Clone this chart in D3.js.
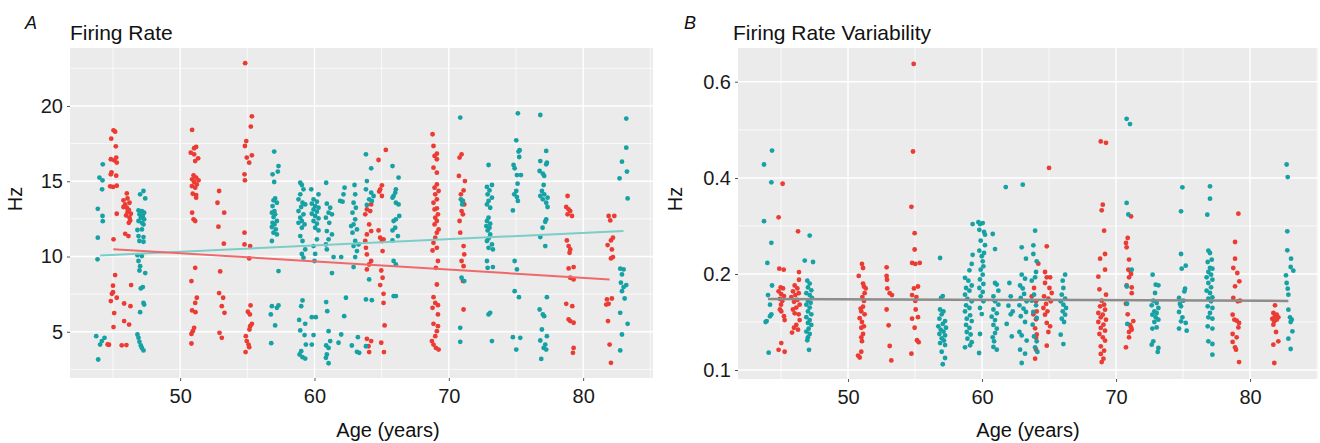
<!DOCTYPE html>
<html><head><meta charset="utf-8">
<script src="https://cdn.jsdelivr.net/npm/d3@7"></script>
<style>body{margin:0;background:#fff}svg{display:block}text{font-family:"Liberation Sans",Arial,Helvetica,sans-serif}</style>
</head><body><svg id="c" width="1320" height="443"></svg>
<script>
// ---------- DATA ----------
const xTicks = [50, 60, 70, 80];
const xMinor = [45, 55, 65, 75, 85];
const frTicks = [5, 10, 15, 20];
const frMinor = [2.5, 7.5, 12.5, 17.5, 22.5];
const frvTicks = [0.1, 0.2, 0.4, 0.6];
const frvMinor = [0.15, 0.3, 0.5];

// Panel A: firing rate (Hz) vs age, red group
const frRed = [
[45.04,18.38],[45.16,18.29],[44.87,17.83],[45.21,17.32],[45.24,16.57],[44.84,16.46],[45.09,16.39],[45.28,16.24],[44.89,15.59],[44.84,15.46],[45.24,15.37],[45.28,14.7],[44.79,14.66],[45.0,14.62],[45.28,12.84],[45.04,11.14],[45.16,8.77],[45.0,8.06],[45.0,7.63],[44.92,7.52],[45.28,7.26],[44.84,7.04],[45.09,6.24],[45.04,5.31],[44.7,4.14],[44.6,4.16],
[46.03,14.19],[46.08,13.86],[45.78,13.73],[46.23,13.57],[45.91,13.46],[45.78,13.29],[46.03,13.24],[46.18,13.09],[46.08,12.95],[46.33,12.84],[45.98,12.73],[46.23,12.58],[46.28,12.4],[46.18,12.24],[45.91,11.51],[46.15,11.36],[46.35,8.1],[45.83,6.88],[46.3,6.7],[45.83,5.71],[46.2,5.48],[45.65,4.1],[46.0,4.12],
[50.89,18.41],[51.19,17.28],[51.04,17.19],[50.79,16.9],[51.04,16.79],[51.34,16.52],[51.12,16.34],[51.0,15.39],[51.19,15.24],[50.89,15.13],[51.37,15.06],[51.04,14.95],[51.24,14.79],[50.87,14.68],[51.12,14.57],[50.94,14.17],[51.19,14.08],[51.19,13.91],[50.89,12.91],[51.0,12.47],[51.12,12.36],[51.12,9.25],[50.84,8.37],[51.24,7.26],[51.12,6.92],[50.89,6.42],[51.14,6.3],[51.04,5.26],[50.94,5.04],[50.84,4.86],[50.84,4.22],
[52.9,14.35],[52.78,13.57],[53.28,12.91],[52.85,11.98],[53.25,10.85],[52.98,9.01],[52.9,7.57],[53.2,7.26],[53.1,6.7],[53.3,6.26],[52.93,4.93],[53.1,4.6],
[54.84,22.84],[55.34,19.31],[55.26,18.63],[54.92,17.67],[54.82,17.34],[55.34,16.72],[54.96,16.57],[55.14,16.23],[54.79,15.46],[54.82,15.06],[54.79,11.58],[54.79,10.8],[55.21,10.69],[55.14,9.87],[55.24,6.75],[55.04,6.33],[55.19,6.15],[55.34,5.53],[55.21,5.37],[55.16,5.15],[54.89,4.71],[54.96,4.38],[55.09,4.15],[55.14,3.98],[54.87,3.65],
[64.22,13.46],[63.9,13.13],[64.15,13.02],[63.78,12.8],[64.07,12.13],[64.22,11.69],[63.9,11.47],[63.78,11.03],[63.83,10.58],[63.9,10.14],[64.22,9.7],[64.07,9.47],[63.9,9.14],[63.9,4.53],[64.22,4.38],[64.02,4.04],[64.07,3.65],
[65.31,17.08],[64.77,16.41],[65.02,14.73],[64.89,14.46],[64.82,14.31],[65.02,14.02],[64.77,11.73],[64.89,11.25],[65.14,11.14],[65.02,11.03],[65.07,10.36],[64.97,9.07],[65.07,8.59],[64.89,8.1],[65.14,7.52],[65.14,6.92],[65.22,5.42],[64.97,4.27],[65.17,3.65],
[68.79,18.12],[68.86,17.34],[69.11,16.83],[68.94,16.68],[69.11,16.46],[68.86,15.9],[69.11,15.57],[69.11,14.79],[68.94,14.57],[69.24,14.35],[68.99,14.13],[69.11,13.8],[68.86,13.57],[69.11,13.2],[68.94,13.13],[69.19,12.8],[68.99,12.58],[69.11,12.36],[68.94,12.13],[69.24,11.8],[69.11,11.58],[68.99,11.25],[68.86,10.91],[69.11,10.58],[68.79,10.4],[69.19,9.7],[69.04,9.25],[69.11,8.14],[68.86,7.3],[68.99,6.92],[69.19,6.77],[68.79,6.59],[69.19,6.15],[68.86,5.53],[69.19,5.37],[69.11,5.04],[68.99,4.71],[68.74,4.38],[68.86,4.15],[69.04,3.93],[69.24,3.82],
[70.95,16.79],[70.8,16.57],[70.75,15.35],[71.2,15.01],[71.1,14.39],[70.9,14.13],[71.0,13.69],[71.15,13.46],[70.95,13.02],[71.05,12.8],[70.8,12.36],[70.85,11.58],[71.1,10.69],[71.15,10.14],[70.95,9.7],[71.1,9.36],[71.05,8.37],[71.1,6.48],
[78.84,14.02],[78.74,13.29],[78.92,13.13],[79.04,13.02],[78.84,12.8],[79.17,12.69],[78.79,11.07],[78.92,10.69],[79.04,10.47],[78.99,10.25],[79.29,9.3],[78.92,9.21],[79.04,8.59],[79.29,8.48],[78.74,6.86],[79.19,6.7],[78.92,5.82],[79.04,5.71],[79.29,5.6],[79.29,3.93],[79.24,3.6],
[81.9,12.69],[82.02,12.4],[82.32,12.69],[82.22,11.25],[82.07,11.07],[81.82,10.76],[82.14,10.47],[82.22,9.96],[82.07,9.87],[82.14,7.21],[81.77,7.15],[81.9,6.86],[81.72,6.81],[81.85,5.71],[81.97,4.15],[82.07,2.94]
];

// Panel A: firing rate (Hz) vs age, teal group
const frTeal = [
[44.24,16.12],[43.99,15.24],[44.22,15.06],[44.19,14.46],[43.87,13.17],[44.22,12.69],[44.24,12.35],[43.87,11.25],[43.85,9.81],[43.75,4.71],[44.37,4.6],[44.17,4.38],[44.04,4.15],[43.9,3.16],
[47.27,14.35],[47.02,14.13],[47.4,13.86],[46.9,13.06],[47.15,13.02],[47.32,12.91],[46.97,12.8],[47.22,12.69],[47.07,12.58],[47.32,12.47],[46.9,12.36],[47.15,12.24],[47.27,12.13],[47.15,11.8],[46.82,11.76],[46.9,11.36],[47.27,11.29],[46.97,11.03],[47.27,10.98],[46.82,10.09],[47.15,10.03],[46.9,9.7],[47.02,9.36],[46.97,9.07],[47.4,8.9],[47.22,7.97],[47.07,7.88],[47.27,6.92],[47.32,6.81],[47.02,6.3],[46.82,4.82],[46.9,4.6],[46.97,4.33],[47.07,4.09],[47.15,3.93],[47.27,3.76],
[57.0,16.97],[57.32,16.01],[57.27,15.64],[56.88,15.46],[57.0,14.95],[57.07,13.86],[56.95,13.73],[57.2,13.57],[56.88,13.35],[57.02,13.02],[56.83,12.91],[57.07,12.8],[56.95,12.62],[57.2,12.36],[56.88,12.24],[57.02,12.13],[56.83,11.96],[57.12,11.8],[56.95,11.58],[57.2,11.47],[56.83,11.03],[57.32,9.03],[57.32,6.75],[56.83,6.7],[57.2,6.59],[56.75,6.15],[57.07,5.42],[56.78,4.24],
[58.94,14.9],[59.06,14.75],[59.18,14.46],[58.94,14.13],[58.81,13.8],[59.11,13.57],[59.31,13.46],[59.01,13.29],[58.81,13.02],[59.18,12.8],[58.94,12.58],[59.06,12.36],[58.81,12.24],[59.26,12.13],[59.06,11.91],[58.94,11.36],[59.11,11.03],[59.31,10.47],[59.06,10.18],[59.18,9.92],[59.11,7.08],[59.01,6.7],[58.86,5.79],[59.31,5.53],[58.94,5.09],[59.26,4.78],[59.36,4.15],[59.01,3.71],[58.89,3.49],[59.11,3.31],[59.31,3.22],
[59.76,14.46],[60.3,14.13],[59.93,13.8],[60.18,13.64],[59.8,13.51],[60.05,13.35],[60.3,13.24],[59.93,13.13],[60.18,12.98],[59.8,12.84],[60.05,12.69],[60.3,12.53],[59.93,12.36],[60.18,12.18],[60.05,11.91],[60.3,11.73],[60.18,11.14],[59.93,10.69],[60.05,10.18],[60.0,9.7],[59.8,5.97],[60.1,5.97],[59.93,4.78],[59.8,4.15],
[60.87,14.9],[60.92,13.51],[61.17,13.24],[61.05,12.91],[61.3,12.8],[60.85,12.58],[61.1,12.24],[60.92,11.69],[61.3,11.47],[61.05,11.14],[60.85,10.8],[60.92,10.47],[61.42,9.96],[61.3,8.9],[60.87,6.97],[60.95,6.37],[61.05,5.04],[61.17,4.38],[60.87,4.09],[61.05,3.93],[60.92,3.49],[60.85,3.27],[61.05,2.91],
[62.24,14.57],[62.16,14.13],[61.91,13.69],[62.09,13.64],[61.99,9.96],[62.34,7.26],[62.21,6.04],[61.99,4.82],[61.79,4.27],
[62.98,14.75],[63.03,14.13],[62.91,13.57],[63.08,13.24],[62.83,12.91],[63.03,12.47],[62.91,12.13],[62.73,12.02],[63.16,11.8],[62.83,11.58],[63.03,11.03],[63.28,10.8],[62.91,10.69],[63.16,10.36],[63.03,9.96],[62.91,9.3],[63.23,4.64],[62.78,4.09],[63.16,3.67],[63.33,3.6],
[63.83,16.79],[64.22,15.86],[63.9,15.01],[63.83,14.46],[64.22,14.24],[64.4,14.02],[64.07,13.8],[64.27,13.69],[63.9,13.42],[64.07,8.48],[63.83,7.15],[64.27,7.1],[63.83,4.04],
[65.81,16.01],[66.26,15.24],[66.06,14.46],[66.01,14.24],[65.89,14.02],[65.81,13.91],[66.06,13.57],[66.26,13.46],[66.31,12.69],[66.06,12.47],[65.89,12.36],[66.01,11.91],[65.81,11.73],[66.21,11.36],[65.81,11.07],[65.89,9.7],[66.06,9.47],[65.89,7.37],[66.06,7.37],
[70.85,19.23],[70.9,13.8],[71.05,13.69],[71.0,13.46],[70.95,8.59],[71.15,8.37],[70.85,5.26],[70.85,4.33],
[72.96,16.08],[73.21,14.75],[72.84,14.62],[73.03,14.39],[72.89,14.13],[73.21,13.91],[72.96,13.69],[72.84,13.46],[73.08,13.24],[72.96,12.58],[72.84,12.36],[73.08,12.18],[72.79,12.02],[73.03,11.91],[72.89,11.73],[73.08,11.47],[72.96,11.2],[72.84,11.03],[73.21,10.8],[72.96,10.58],[73.28,10.47],[72.84,9.7],[73.28,9.3],[72.89,9.25],[73.08,6.26],[72.96,6.15],[73.21,4.38],
[75.14,19.51],[75.02,17.72],[75.27,17.06],[75.19,16.97],[75.24,16.61],[74.82,16.08],[74.9,15.86],[75.07,15.41],[75.37,15.41],[75.12,14.84],[75.02,14.35],[74.87,14.13],[75.07,13.95],[75.14,13.69],[74.77,13.06],[74.9,9.7],[75.07,9.14],[74.9,7.7],[75.22,7.3],[74.77,4.64],[75.32,4.6],[75.02,3.82],
[76.81,19.4],[77.25,17.01],[76.81,16.34],[77.3,16.23],[77.25,16.12],[76.76,15.68],[77.0,15.5],[77.1,15.35],[77.06,14.75],[76.93,14.35],[77.1,14.13],[76.81,14.02],[77.35,13.91],[77.0,13.8],[77.25,13.57],[77.35,13.29],[77.25,12.47],[77.18,12.31],[76.98,11.91],[76.81,11.29],[77.18,10.69],[77.3,7.3],[76.76,6.48],[77.0,6.15],[77.1,6.04],[76.93,5.15],[77.3,4.71],[76.81,4.42],[77.18,4.15],[77.06,3.93],[77.25,3.82],[76.88,3.2],
[83.21,19.16],[83.21,17.23],[82.89,16.3],[83.26,15.64],[82.71,15.19],[83.31,13.86],[82.76,9.19],[83.01,9.14],[82.89,8.81],[82.81,8.26],[83.21,8.1],[83.01,7.97],[82.89,7.7],[83.09,7.21],[82.76,6.26],[83.31,5.53],[82.89,4.82],[82.76,3.76]
];

// Panel B: firing rate variability vs age, red group
const frvRed = [
[45.12,0.388],[44.82,0.318],[44.87,0.211],[45.2,0.209],[44.97,0.186],[45.15,0.185],[44.82,0.182],[45.02,0.179],[45.22,0.177],[44.92,0.174],[45.1,0.172],[45.0,0.168],[44.92,0.163],[45.02,0.161],[45.22,0.156],[45.27,0.152],[45.02,0.128],[44.82,0.121],[45.27,0.119],
[46.27,0.289],[46.34,0.204],[46.34,0.194],[46.02,0.188],[46.22,0.185],[45.89,0.182],[46.32,0.18],[46.07,0.178],[45.77,0.176],[46.22,0.173],[45.97,0.171],[46.39,0.168],[46.14,0.165],[45.89,0.163],[46.02,0.159],[46.32,0.158],[46.39,0.152],[46.14,0.147],[45.97,0.144],[46.27,0.142],[45.82,0.139],
[51.04,0.221],[51.12,0.2125],[50.8,0.198],[51.12,0.19],[51.19,0.187],[51.32,0.185],[51.24,0.18],[51.07,0.176],[51.19,0.172],[51.12,0.166],[50.94,0.164],[50.99,0.161],[51.24,0.158],[50.87,0.154],[51.04,0.15],[51.19,0.1455],[50.99,0.144],[51.12,0.1375],[50.99,0.134],[51.04,0.13],[50.99,0.119],[50.75,0.115],[50.87,0.113],
[52.88,0.214],[52.88,0.198],[52.91,0.194],[52.93,0.185],[53.11,0.18],[53.28,0.178],[52.88,0.163],[53.03,0.1465],[53.11,0.125],[53.23,0.11],
[54.9,0.637],[54.85,0.455],[54.73,0.34],[54.97,0.285],[54.97,0.251],[54.78,0.223],[55.35,0.223],[55.02,0.221],[55.22,0.187],[54.92,0.185],[54.78,0.178],[55.1,0.176],[55.02,0.172],[55.05,0.163],[55.22,0.155],[54.78,0.1535],[54.97,0.144],[55.15,0.131],[55.27,0.129],[54.73,0.117],
[63.88,0.1854],[63.71,0.1767],[64.03,0.1715],[64.08,0.161],[63.83,0.158],[64.03,0.1528],[63.96,0.1434],[64.08,0.137],[64.03,0.1337],[64.03,0.1212],[63.96,0.1118],
[65.0,0.421],[64.83,0.2576],[64.2,0.2215],[64.7,0.2042],[64.83,0.1965],[65.08,0.1965],[64.7,0.1906],[65.03,0.1854],[65.2,0.1802],[64.63,0.1767],[64.95,0.1743],[65.13,0.1715],[64.78,0.1688],[64.58,0.1646],[64.88,0.1611],[64.7,0.1576],[64.83,0.149],[65.08,0.1455],[64.95,0.1396],[64.83,0.1253],
[68.86,0.476],[69.25,0.473],[69.01,0.3444],[68.93,0.3326],[69.11,0.2903],[69.18,0.2417],[68.81,0.232],[69.18,0.209],[68.68,0.1972],[68.76,0.184],[69.25,0.1785],[68.93,0.1722],[69.11,0.168],[68.81,0.1663],[69.18,0.1628],[68.68,0.1594],[69.01,0.1576],[68.86,0.1549],[69.25,0.1524],[68.68,0.15],[69.06,0.1472],[68.86,0.1438],[69.18,0.141],[68.76,0.1375],[69.01,0.134],[69.18,0.1306],[68.86,0.1247],[69.11,0.1201],[68.86,0.1167],[69.06,0.1118],[68.93,0.1083],
[71.12,0.32],[70.87,0.275],[70.74,0.2646],[70.79,0.2556],[70.97,0.23],[70.92,0.209],[71.04,0.207],[71.12,0.2],[70.97,0.1965],[70.79,0.188],[71.17,0.186],[71.17,0.18],[70.74,0.169],[70.87,0.158],[71.29,0.151],[71.04,0.147],[71.12,0.1444],[71.17,0.142],[70.97,0.1396],[70.97,0.134],[70.74,0.1236],
[79.13,0.3257],[78.88,0.2667],[78.88,0.232],[78.75,0.2125],[79.05,0.2021],[79.2,0.1924],[78.88,0.1872],[78.75,0.175],[79.25,0.1722],[79.08,0.1715],[78.7,0.1576],[78.83,0.1524],[79.0,0.1514],[79.18,0.149],[79.13,0.1444],[78.7,0.1375],[79.0,0.134],[78.7,0.1292],[78.88,0.1236],[78.95,0.1212],[79.18,0.1083],
[81.86,0.1674],[81.74,0.1594],[81.99,0.1576],[81.86,0.1559],[82.11,0.1549],[81.66,0.1535],[81.99,0.1524],[81.81,0.1507],[81.74,0.1472],[81.94,0.1396],[82.11,0.1299],[81.74,0.1264],[81.81,0.1073]
];

// Panel B: firing rate variability vs age, teal group
const frvTeal = [
[44.33,0.457],[43.73,0.428],[44.28,0.391],[43.73,0.31],[44.28,0.265],[43.98,0.223],[44.33,0.188],[44.03,0.178],[44.18,0.168],[44.28,0.158],[44.18,0.156],[43.93,0.151],[43.85,0.15],[44.08,0.118],
[47.14,0.28],[46.77,0.228],[47.39,0.225],[46.96,0.193],[47.14,0.19],[47.01,0.186],[47.26,0.183],[46.89,0.18],[47.14,0.178],[47.31,0.175],[47.01,0.172],[47.21,0.17],[46.89,0.168],[47.14,0.165],[47.01,0.161],[47.26,0.158],[46.89,0.155],[47.14,0.152],[47.01,0.149],[47.26,0.147],[47.06,0.143],[46.89,0.14],[47.14,0.1375],[47.01,0.134],[46.96,0.131],[47.09,0.121],
[56.87,0.2333],[57.07,0.177],[56.94,0.175],[56.87,0.163],[57.12,0.161],[56.99,0.158],[56.82,0.1535],[57.24,0.151],[57.07,0.148],[56.74,0.1455],[57.31,0.144],[56.92,0.142],[57.12,0.14],[56.82,0.1375],[57.24,0.136],[56.99,0.133],[57.16,0.1306],[56.87,0.128],[57.24,0.126],[56.99,0.119],[57.24,0.1125],[57.07,0.106],
[59.3,0.304],[59.3,0.24],[59.23,0.221],[59.06,0.2076],[58.73,0.196],[58.98,0.193],[59.23,0.188],[58.81,0.1854],[59.06,0.1826],[58.73,0.1785],[58.91,0.174],[59.23,0.1715],[58.81,0.1674],[59.06,0.1646],[58.73,0.161],[59.11,0.157],[58.86,0.1535],[59.23,0.151],[58.81,0.147],[59.06,0.1438],[58.86,0.1396],[59.15,0.137],[58.91,0.1326],[59.23,0.129],[59.11,0.1257],[58.73,0.1236],
[59.73,0.308],[60.05,0.306],[59.85,0.304],[59.8,0.292],[60.15,0.2875],[60.22,0.282],[59.9,0.2694],[60.22,0.26],[59.8,0.2486],[60.15,0.2437],[59.98,0.237],[60.05,0.2264],[60.1,0.216],[59.9,0.209],[60.05,0.1993],[59.85,0.1944],[60.1,0.1896],[59.8,0.1854],[60.05,0.1813],[59.9,0.1767],[60.1,0.1715],[59.85,0.1646],[59.98,0.1583],[59.85,0.1375],[59.78,0.1177],
[60.8,0.2833],[60.97,0.252],[60.97,0.1906],[61.1,0.189],[61.22,0.1826],[60.85,0.1767],[60.97,0.1715],[61.22,0.168],[60.85,0.163],[61.1,0.159],[60.72,0.1555],[60.97,0.152],[60.85,0.147],[61.1,0.143],[60.97,0.1385],[60.8,0.134],[60.9,0.1299],[60.85,0.124],[61.1,0.1212],
[61.77,0.381],[62.04,0.1906],[62.14,0.1767],[61.97,0.167],[62.29,0.161],[62.14,0.158],[61.84,0.148],[62.22,0.135],
[63.04,0.386],[62.96,0.2556],[63.28,0.232],[62.96,0.1993],[63.21,0.1951],[62.84,0.188],[63.04,0.185],[63.14,0.1792],[62.89,0.175],[63.33,0.1715],[62.79,0.1674],[63.09,0.164],[63.28,0.1604],[62.89,0.156],[63.21,0.15],[62.79,0.1396],[62.96,0.136],[63.33,0.1306],[62.84,0.1212],[63.21,0.117],[62.96,0.1073],
[63.96,0.2903],[63.83,0.2597],[63.83,0.2417],[64.08,0.2264],[64.03,0.2042],[63.96,0.1965],[63.71,0.193],[63.88,0.1785],[63.71,0.1722],[64.03,0.1674],[63.83,0.1604],[64.08,0.1542],[63.78,0.1472],[63.88,0.135],[64.08,0.1299],[63.96,0.1236],[64.13,0.1188],
[66.2,0.1993],[66.02,0.193],[66.07,0.1854],[65.95,0.1785],[66.2,0.1743],[65.87,0.1715],[66.07,0.168],[66.27,0.1646],[66.02,0.1611],[66.2,0.1576],[65.95,0.1535],[66.12,0.15],[65.87,0.1368],[66.07,0.127],
[70.79,0.523],[71.04,0.512],[70.79,0.348],[70.92,0.324],[71.17,0.209],[70.8,0.187],[70.82,0.169],[70.84,0.148],
[72.73,0.1993],[72.96,0.1889],[73.16,0.1882],[72.91,0.1802],[72.78,0.1722],[73.03,0.1698],[72.66,0.1674],[73.16,0.1646],[72.86,0.1611],[73.03,0.1594],[72.71,0.1576],[72.96,0.1549],[73.16,0.1524],[72.86,0.15],[73.03,0.1444],[72.71,0.1431],[72.78,0.1299],[72.66,0.1264],[73.16,0.1229],[73.11,0.1188],
[74.95,0.3806],[74.85,0.3306],[74.85,0.2417],[75.2,0.2174],[74.9,0.2111],[75.15,0.1847],[75.1,0.1819],[74.7,0.175],[75.02,0.1722],[74.77,0.1688],[74.85,0.1663],[74.7,0.1604],[74.95,0.1549],[74.85,0.1507],[75.2,0.149],[74.7,0.1431],[75.27,0.141],
[77.01,0.3827],[77.01,0.357],[76.81,0.3236],[76.89,0.2486],[77.01,0.2437],[77.14,0.2299],[76.84,0.225],[77.01,0.2125],[77.19,0.2111],[76.89,0.2042],[77.09,0.1993],[76.76,0.1965],[77.19,0.1941],[76.89,0.1906],[77.09,0.1861],[76.76,0.1826],[77.01,0.1802],[77.19,0.1757],[76.89,0.1743],[77.09,0.1715],[76.84,0.1663],[77.19,0.1646],[77.01,0.1594],[76.89,0.1549],[77.19,0.1535],[76.84,0.1455],[77.19,0.1431],[76.89,0.1299],[77.19,0.1271],[77.19,0.116],
[82.73,0.428],[82.81,0.402],[82.78,0.2889],[82.78,0.2493],[83.06,0.232],[83.03,0.2146],[83.23,0.2069],[82.68,0.1986],[82.73,0.1906],[82.81,0.1847],[82.86,0.1785],[82.86,0.1628],[82.98,0.1549],[83.11,0.1524],[83.03,0.15],[83.16,0.1403],[82.86,0.1326],[83.03,0.1219]
];

// Fitted lines (endpoints)
const frFitTeal = [[44.04,10.07],[83.0,11.69]];
const frFitRed = [[45.03,10.49],[81.97,8.48]];
const frvFit = [[44.03,0.174],[82.86,0.172]];

// ---------- STYLE ----------
const RED = "#EC3B33", TEAL = "#16A1A5";
const RED_LINE = "#F0696A", TEAL_LINE = "#7BCDC7", GREY_LINE = "#8C8C8C";
const PANEL_BG = "#EBEBEB";
const R = 2.4;

const svg = d3.select("#c");

function panel(cfg) {
  const {x, y, left, right, top, bottom, yTicks, yMinor, yFmt, red, teal, fits, letter, letterX, title, titleX, hzX, xTitleX} = cfg;
  const g = svg.append("g");
  g.append("rect").attr("x", left).attr("y", top).attr("width", right-left).attr("height", bottom-top).attr("fill", PANEL_BG);
  g.selectAll(".ym").data(yMinor).join("line").attr("x1", left).attr("x2", right)
    .attr("y1", d=>y(d)).attr("y2", d=>y(d)).attr("stroke", "#fff").attr("stroke-width", 0.7);
  g.selectAll(".xm").data(xMinor.filter(d=>x(d)>=left && x(d)<=right)).join("line").attr("y1", top).attr("y2", bottom)
    .attr("x1", d=>x(d)).attr("x2", d=>x(d)).attr("stroke", "#fff").attr("stroke-width", 0.7);
  g.selectAll(".yM").data(yTicks).join("line").attr("x1", left).attr("x2", right)
    .attr("y1", d=>y(d)).attr("y2", d=>y(d)).attr("stroke", "#fff").attr("stroke-width", 1.4);
  g.selectAll(".xM").data(xTicks).join("line").attr("y1", top).attr("y2", bottom)
    .attr("x1", d=>x(d)).attr("x2", d=>x(d)).attr("stroke", "#fff").attr("stroke-width", 1.4);
  const ax = g.append("g").attr("transform", `translate(0,${bottom})`)
    .call(d3.axisBottom(x).tickValues(xTicks).tickSize(3).tickPadding(8).tickFormat(d3.format("d")));
  const ay = g.append("g").attr("transform", `translate(${left},0)`)
    .call(d3.axisLeft(y).tickValues(yTicks).tickSize(3).tickPadding(4).tickFormat(yFmt));
  [ax, ay].forEach(a => {
    a.select(".domain").remove();
    a.selectAll(".tick line").attr("stroke", "#555");
    a.selectAll(".tick text").attr("fill", "#1a1a1a").style("font-size", "20px");
  });
  ax.selectAll(".tick text").attr("dy", "0.72em");
  g.append("g").selectAll("circle").data(red).join("circle")
    .attr("cx", d=>x(d[0])).attr("cy", d=>y(d[1])).attr("r", R).attr("fill", RED);
  g.append("g").selectAll("circle").data(teal).join("circle")
    .attr("cx", d=>x(d[0])).attr("cy", d=>y(d[1])).attr("r", R).attr("fill", TEAL);
  const line = d3.line().x(d=>x(d[0])).y(d=>y(d[1]));
  fits.forEach(f => g.append("path").attr("d", line(f.data)).attr("fill", "none")
    .attr("stroke", f.color).attr("stroke-width", f.w));
  g.append("text").attr("x", letterX).attr("y", 29).text(letter)
    .style("font-size", "18px").style("font-style", "italic").attr("fill", "#111");
  g.append("text").attr("x", titleX).attr("y", 40).text(title).style("font-size", "21px").attr("fill", "#111");
  g.append("text").attr("transform", `translate(${hzX},199) rotate(-90)`).attr("text-anchor", "middle")
    .text("Hz").style("font-size", "20px").attr("fill", "#111");
  g.append("text").attr("x", xTitleX).attr("y", 437).attr("text-anchor", "middle")
    .text("Age (years)").style("font-size", "20px").attr("fill", "#111");
}

const xA = d3.scaleLinear().domain([41.8, 85.2]).range([70, 653]);
const yA = d3.scaleLinear().domain([1.93, 23.85]).range([378, 48]);
panel({x: xA, y: yA, left: 70, right: 653, top: 48, bottom: 378,
  yTicks: frTicks, yMinor: frMinor, yFmt: d3.format("d"),
  red: frRed, teal: frTeal,
  fits: [{data: frFitTeal, color: TEAL_LINE, w: 2}, {data: frFitRed, color: RED_LINE, w: 2}],
  letter: "A", letterX: 25, title: "Firing Rate", titleX: 70, hzX: 22, xTitleX: 388});

const xB = d3.scaleLinear().domain([41.79, 85.07]).range([738, 1318]);
const yB = d3.scaleLinear().domain([0.1, 0.2, 0.4, 0.6]).range([370, 274, 178, 81.7]);
panel({x: xB, y: yB, left: 738, right: 1318, top: 48, bottom: 379,
  yTicks: frvTicks, yMinor: frvMinor, yFmt: d3.format(".1f"),
  red: frvRed, teal: frvTeal,
  fits: [{data: frvFit, color: GREY_LINE, w: 2.5}],
  letter: "B", letterX: 684, title: "Firing Rate Variability", titleX: 733, hzX: 682, xTitleX: 1028});
</script></body></html>
